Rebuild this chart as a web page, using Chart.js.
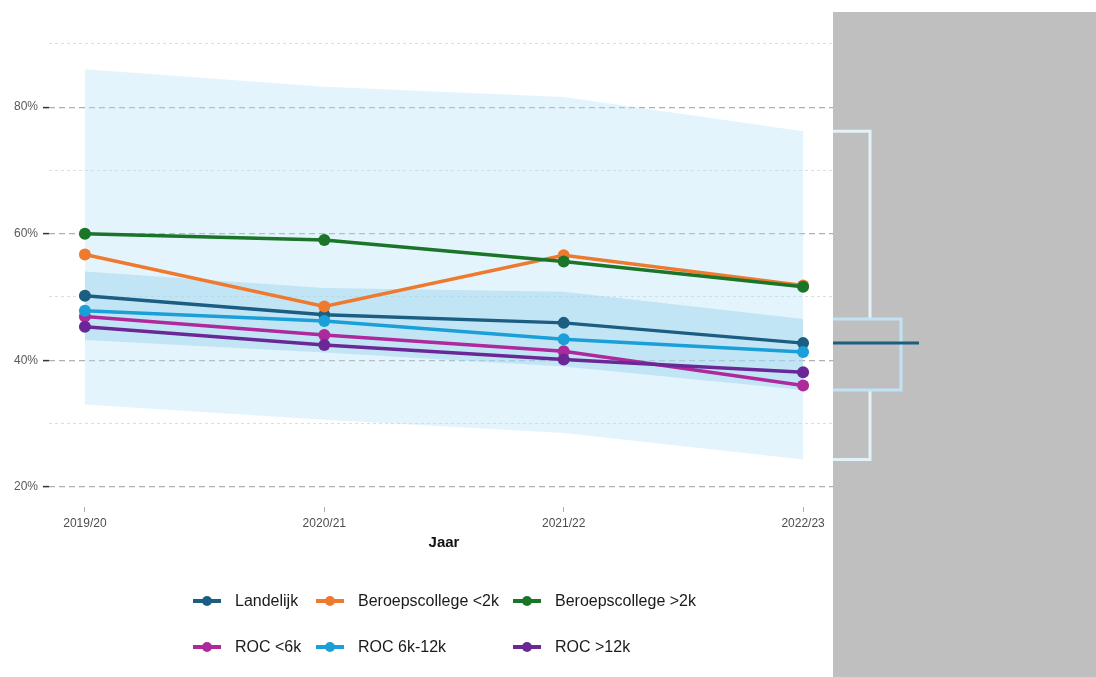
<!DOCTYPE html>
<html>
<head>
<meta charset="utf-8">
<script src="https://cdn.jsdelivr.net/npm/chart.js@4.4.1/dist/chart.umd.min.js"></script>
<style>
  body { margin: 0; background: #fff; font-family: "Liberation Sans", Arial, sans-serif; }
  #wrap { position: relative; width: 1096px; height: 677px; overflow: hidden; }
  #chart { position: absolute; left: 0; top: 0; }
  #legend { position: absolute; left: 193px; top: 578px; }
  .row { display: flex; height: 46px; align-items: center; }
  .item { display: flex; align-items: center; font-size: 16px; color: #1a1a1a; }
  .item svg { margin-right: 14px; }
</style>
</head>
<body>
<div id="wrap">
  <canvas id="chart" width="1096" height="677"></canvas>
  <div id="legend"></div>
</div>
<script>
var years = ['2019/20', '2020/21', '2021/22', '2022/23'];
var seriesNames = ['Landelijk', 'Beroepscollege <2k', 'Beroepscollege >2k', 'ROC <6k', 'ROC 6k-12k', 'ROC >12k'];
var seriesColors = ['#1b5e82', '#ee7a30', '#1a7529', '#ae2a9c', '#1a9fd9', '#6a2896'];
var landelijk = [50.2, 47.2, 45.9, 42.7];
var bcKlein = [56.7, 48.5, 56.6, 51.8];
var bcGroot = [60.0, 59.0, 55.6, 51.6];
var rocKlein = [46.9, 44.0, 41.4, 36.0];
var rocMidden = [47.8, 46.2, 43.3, 41.3];
var rocGroot = [45.3, 42.4, 40.1, 38.1];
var outerLow = [33.0, 30.6, 28.5, 24.3];
var outerHigh = [86.0, 83.2, 81.6, 76.2];
var innerLow = [43.2, 41.2, 39.0, 35.3];
var innerHigh = [54.0, 51.4, 50.8, 46.5];
// whisker low, box low, median, box high, whisker high (2022/23)
var boxStats = [24.3, 35.3, 42.7, 46.5, 76.2];
var majorTicks = [20, 40, 60, 80];

var allSeries = [landelijk, bcKlein, bcGroot, rocKlein, rocMidden, rocGroot];

function toPoints(arr) {
  return arr.map(function (v, i) { return { x: i, y: v }; });
}

function band(arr, fillTarget, color, order) {
  return {
    data: toPoints(arr),
    borderWidth: 0,
    borderColor: 'rgba(0,0,0,0)',
    backgroundColor: color,
    pointRadius: 0,
    fill: fillTarget,
    order: order
  };
}

var datasets = [
  band(outerLow, false, 'rgba(0,0,0,0)', 20),
  band(outerHigh, 0, 'rgba(178,223,246,0.35)', 20),
  band(innerLow, false, 'rgba(0,0,0,0)', 15),
  band(innerHigh, 2, 'rgba(160,213,240,0.5)', 15)
];

allSeries.forEach(function (arr, i) {
  datasets.push({
    label: seriesNames[i],
    data: toPoints(arr),
    borderColor: seriesColors[i],
    backgroundColor: seriesColors[i],
    borderWidth: 3.5,
    pointRadius: 6,
    pointBorderWidth: 0,
    pointBackgroundColor: seriesColors[i],
    fill: false,
    order: allSeries.length - i
  });
});

function isMajor(v) { return majorTicks.indexOf(Math.round(v)) >= 0; }

// gray side panel with the boxplot of the last year
var sidePanel = {
  id: 'sidePanel',
  afterDraw: function (chart) {
    var ctx = chart.ctx;
    var y = chart.scales.y;
    var panelX = 833, panelY = 12;
    ctx.save();
    ctx.fillStyle = '#bfbfbf';
    ctx.fillRect(panelX, panelY, chart.width - panelX, chart.height - panelY);

    var wLow = y.getPixelForValue(boxStats[0]);
    var bLow = y.getPixelForValue(boxStats[1]);
    var med = y.getPixelForValue(boxStats[2]);
    var bHigh = y.getPixelForValue(boxStats[3]);
    var wHigh = y.getPixelForValue(boxStats[4]);
    var whiskerX = 870, boxRight = 901, medEnd = 919;

    ctx.lineWidth = 3;
    ctx.strokeStyle = '#e3f2fa';
    ctx.beginPath();
    ctx.moveTo(panelX, wHigh); ctx.lineTo(whiskerX, wHigh); ctx.lineTo(whiskerX, bHigh);
    ctx.moveTo(panelX, wLow); ctx.lineTo(whiskerX, wLow); ctx.lineTo(whiskerX, bLow);
    ctx.stroke();

    ctx.strokeStyle = '#bfe3f5';
    ctx.beginPath();
    ctx.moveTo(panelX, bHigh); ctx.lineTo(boxRight, bHigh); ctx.lineTo(boxRight, bLow); ctx.lineTo(panelX, bLow);
    ctx.stroke();

    ctx.strokeStyle = seriesColors[0];
    ctx.beginPath();
    ctx.moveTo(panelX, med); ctx.lineTo(medEnd, med);
    ctx.stroke();
    ctx.restore();
  }
};

var chart = new Chart(document.getElementById('chart'), {
  type: 'line',
  data: { datasets: datasets },
  options: {
    responsive: false,
    animation: false,
    layout: { padding: { left: 0, top: 12, right: 257, bottom: 121 } },
    plugins: { legend: { display: false }, tooltip: { enabled: false } },
    scales: {
      x: {
        type: 'linear',
        min: -0.15,
        max: 3.15,
        afterFit: function (s) { s.height = 49; },
        ticks: {
          stepSize: 1,
          includeBounds: false,
          autoSkip: false,
          maxRotation: 0,
          padding: 4,
          color: '#4d4d4d',
          font: { family: 'Liberation Sans', size: 12 },
          callback: function (v) { return Number.isInteger(v) ? years[v] : ''; }
        },
        grid: { drawOnChartArea: false, drawTicks: true, tickLength: 5, tickColor: '#b0b0b0' },
        border: { display: false },
        title: {
          display: true,
          text: 'Jaar',
          color: '#111',
          font: { family: 'Liberation Sans', size: 15, weight: 'bold' },
          padding: { top: 2, bottom: 4 }
        }
      },
      y: {
        min: 16.8,
        max: 95,
        afterFit: function (s) { s.width = 49; },
        ticks: {
          stepSize: 10,
          includeBounds: false,
          padding: 5,
          color: '#595959',
          font: { family: 'Liberation Sans', size: 12 },
          callback: function (v) { return isMajor(v) ? v + '%' : ''; }
        },
        grid: {
          drawTicks: true,
          tickLength: 6,
          tickBorderDash: [],
          tickWidth: 1.5,
          tickColor: function (c) { return isMajor(c.tick.value) ? '#333' : 'rgba(0,0,0,0)'; },
          color: function (c) { return isMajor(c.tick.value) ? '#b0b0b0' : '#d6d6d6'; },
          lineWidth: function (c) { return isMajor(c.tick.value) ? 1.2 : 0.8; }
        },
        border: {
          display: false,
          dash: function (c) { return isMajor(c.tick.value) ? [6, 4] : [3, 3]; }
        }
      }
    }
  },
  plugins: [sidePanel]
});

// legend in two rows of three, like the original
var legend = document.getElementById('legend');
var colWidths = [123, 197, 200];
for (var r = 0; r < 2; r++) {
  var row = document.createElement('div');
  row.className = 'row';
  for (var c = 0; c < 3; c++) {
    var i = r * 3 + c;
    var item = document.createElement('div');
    item.className = 'item';
    item.style.width = colWidths[c] + 'px';
    item.innerHTML = '<svg width="28" height="12"><line x1="0" y1="6" x2="28" y2="6" stroke="' + seriesColors[i] +
      '" stroke-width="4"/><circle cx="14" cy="6" r="5" fill="' + seriesColors[i] + '"/></svg>' + seriesNames[i];
    row.appendChild(item);
  }
  legend.appendChild(row);
}
</script>
</body>
</html>
